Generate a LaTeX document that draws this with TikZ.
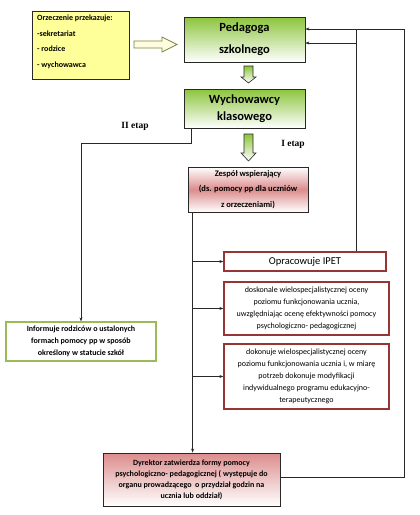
\documentclass[tikz,border=0pt]{standalone}
\usepackage{fontspec}
\setmainfont{Carlito}
\newfontfamily\etapfont{Liberation Serif}
\usetikzlibrary{arrows.meta}
\definecolor{grn}{RGB}{140,196,60}
\definecolor{yel}{RGB}{255,255,153}
\definecolor{pinkr}{RGB}{220,140,140}
\definecolor{dred}{RGB}{148,54,52}
\definecolor{olv}{RGB}{155,187,89}
\definecolor{olvd}{RGB}{120,130,60}
\definecolor{lnk}{RGB}{40,40,40}
\begin{document}
\begin{tikzpicture}[x=1pt,y=-1pt,
  box/.style={draw=lnk, line width=0.8pt, inner sep=0pt, align=center},
  greenbox/.style={box, top color=grn, bottom color=white, font=\bfseries\fontsize{12.5}{22}\selectfont, minimum width=121pt},
  redbox/.style={draw=dred, line width=1.3pt, fill=white, inner sep=0pt, align=center, minimum width=165pt, font=\fontsize{8}{12}\selectfont},
  arr/.style={-{Stealth[length=4pt,width=3pt]}, line width=0.6pt, draw=lnk},
  ln/.style={line width=0.6pt, draw=lnk},
  etap/.style={font=\etapfont\bfseries\fontsize{9.5}{11}\selectfont},
  blockarr/.style={draw=lnk, line width=0.6pt, top color=grn, bottom color=white}
]
\useasboundingbox (0,0) rectangle (420,515);

% yellow box
\node[box, fill=yel, minimum width=97pt, minimum height=68pt] (yel) at (80.5,45) {};
\node[anchor=north west, inner sep=0pt, align=left, font=\bfseries\fontsize{8}{15.5}\selectfont] (yelt) at (37,15)
  {Orzeczenie przekazuje:\\-sekretariat\\- rodzice\\- wychowawca};

% right block arrow
\draw[draw=olvd, line width=0.8pt, fill=yellow!12] (134,41) -- (162,41) -- (162,37) -- (177,44.5) -- (162,52) -- (162,48) -- (134,48) -- cycle;

% green boxes
\node[greenbox, minimum height=45pt] (ped) at (244.5,39.5) {Pedagoga\\szkolnego};
\node[greenbox, minimum height=39pt, font=\bfseries\fontsize{12.5}{17}\selectfont] (wych) at (244.5,108.5) {Wychowawcy\\klasowego};

% down arrows
\draw[blockarr] (244,66) -- (253,66) -- (253,77) -- (256,77) -- (248.5,83) -- (241,77) -- (244,77) -- cycle;
\draw[blockarr] (244,134) -- (253,134) -- (253,153) -- (256,153) -- (248.5,161) -- (241,153) -- (244,153) -- cycle;

% labels
\node[etap] (e2) at (135,126) {II etap};
\node[etap] (e1) at (293,144) {I etap};

% zespol
\node[box, minimum width=120pt, minimum height=45pt, top color=white, bottom color=white, middle color=pinkr, font=\bfseries\fontsize{8.5}{15.5}\selectfont] (zesp) at (248,189.5)
  {Zespół wspierający\\(ds. pomocy pp dla uczniów\\z orzeczeniami)};

% red boxes
\node[redbox, minimum width=162pt, minimum height=19pt, font=\fontsize{10.5}{12}\selectfont] (ipet) at (305,261.5) {Opracowuje IPET};
\node[redbox, minimum height=53pt] (b2) at (306.5,308.5)
  {doskonale wielospecjalistycznej oceny\\poziomu funkcjonowania ucznia,\\uwzględniając ocenę efektywności pomocy\\psychologiczno- pedagogicznej};
\node[redbox, minimum height=65pt] (b3) at (306.5,376.5)
  {dokonuje wielospecjalistycznej oceny\\poziomu funkcjonowania ucznia i, w miarę\\potrzeb dokonuje modyfikacji\\indywidualnego programu edukacyjno-\\terapeutycznego};

% informuje
\node[draw=olv, line width=1.3pt, fill=white, inner sep=0pt, align=center, minimum width=150pt, minimum height=39pt, font=\bfseries\fontsize{8}{11.7}\selectfont] (inf) at (81,341.5)
  {Informuje rodziców o ustalonych\\formach pomocy pp w sposób\\określony w statucie szkół};

% dyrektor
\node[box, minimum width=177pt, minimum height=53pt, top color=pinkr, bottom color=white, font=\bfseries\fontsize{8}{11}\selectfont] (dyr) at (191.5,479.5)
  {Dyrektor zatwierdza formy pomocy\\psychologiczno- pedagogicznej ( występuje do\\organu prowadzącego\ \ o przydział godzin na\\ucznia lub oddział)};

% connectors
\coordinate (ws) at ([xshift=8pt]wych.south west);
\draw[arr] (ws) -- ++(0,15) -| (inf.north);
\coordinate (zs) at ([xshift=5pt]zesp.south west);
\draw[arr] (zs) -- (zs |- dyr.north);
\draw[arr] (zs |- ipet.west) -- (ipet.west);
\draw[arr] (zs |- b2.west) -- (b2.west);
\draw[arr] (zs |- b3.west) -- (b3.west);

\coordinate (pa) at ([yshift=10.5pt]ped.east);
\coordinate (pb) at ([yshift=-3.5pt]ped.east);
\coordinate (it) at ([xshift=133pt]ipet.north west);
\draw[arr] (it) |- (pb);
\draw[ln] (it |- pb) -- (it |- pa);
\coordinate (rc) at (404,477);
\draw[arr] ([yshift=2.5pt]dyr.east) -- (rc) |- (pa);
\end{tikzpicture}
\end{document}
